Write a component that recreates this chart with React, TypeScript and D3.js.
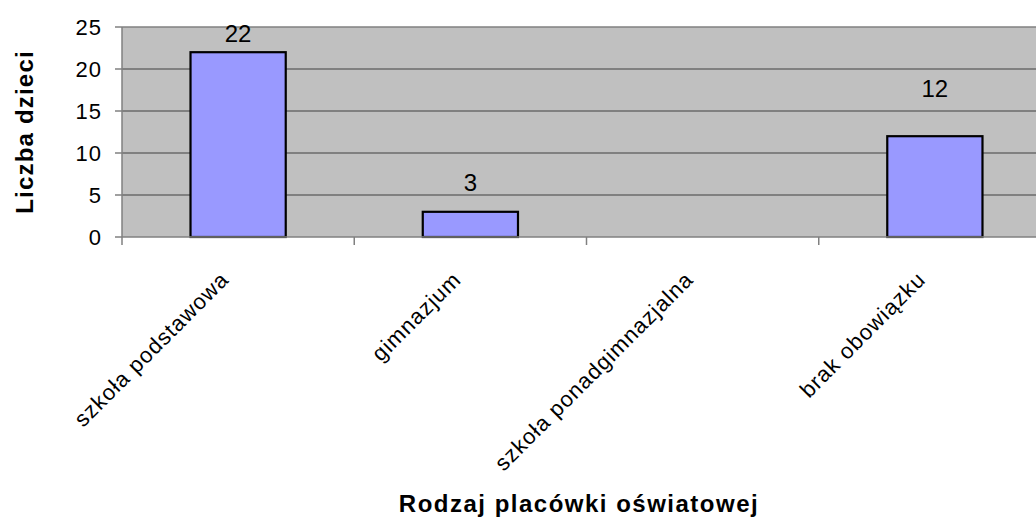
import React, { useEffect, useRef } from "react";
import * as d3 from "d3";

const categories = [
  "szkoła podstawowa",
  "gimnazjum",
  "szkoła ponadgimnazjalna",
  "brak obowiązku",
];
const counts = [22, 3, 0, 12];
const yTicks = [0, 5, 10, 15, 20, 25];

const yTitle = "Liczba dzieci";
const xTitle = "Rodzaj placówki oświatowej";

const FONT = "'Liberation Sans', Arial, sans-serif";

export default function App() {
  const ref = useRef<SVGSVGElement | null>(null);

  useEffect(() => {
    const width = 1036;
    const height = 518;
    const margin = { top: 27, right: -15, bottom: 281, left: 122 };

    const svg = d3.select(ref.current);
    svg.selectAll("*").remove();

    const x0 = margin.left;
    const x1 = width - margin.right;
    const yTop = margin.top;
    const yBot = height - margin.bottom;

    // category slots (for ticks) and bars inside them
    const slot = d3.scaleBand().domain(categories).range([x0, x1]);
    const x = d3
      .scaleBand()
      .domain(categories)
      .range([x0, x1])
      .paddingInner(0.59)
      .paddingOuter(0.295);

    const y = d3.scaleLinear().domain([0, 25]).range([yBot, yTop]);

    // plot background
    svg
      .append("rect")
      .attr("x", x0)
      .attr("y", yTop)
      .attr("width", x1 - x0)
      .attr("height", yBot - yTop)
      .attr("fill", "#c0c0c0");

    // grid lines
    svg
      .selectAll(".grid")
      .data(yTicks.filter(t => t > 0 && t < 25))
      .enter()
      .append("line")
      .attr("x1", x0)
      .attr("x2", x1)
      .attr("y1", d => y(d))
      .attr("y2", d => y(d))
      .attr("stroke", "#404040")
      .attr("stroke-width", 1);

    // top border
    svg
      .append("line")
      .attr("x1", x0)
      .attr("x2", x1)
      .attr("y1", yTop)
      .attr("y2", yTop)
      .attr("stroke", "#808080")
      .attr("stroke-width", 1.5);

    // bars
    svg
      .selectAll(".bar")
      .data(counts.map((v, i) => ({ v, c: categories[i] })).filter(d => d.v > 0))
      .enter()
      .append("rect")
      .attr("x", d => x(d.c)!)
      .attr("y", d => y(d.v))
      .attr("width", x.bandwidth())
      .attr("height", d => y(0) - y(d.v))
      .attr("fill", "#9999ff")
      .attr("stroke", "#000")
      .attr("stroke-width", 2.2);

    // y axis
    svg
      .append("line")
      .attr("x1", x0)
      .attr("x2", x0)
      .attr("y1", yTop)
      .attr("y2", yBot)
      .attr("stroke", "#808080")
      .attr("stroke-width", 1.5);

    svg
      .selectAll(".ytick")
      .data(yTicks)
      .enter()
      .append("line")
      .attr("x1", x0 - 7)
      .attr("x2", x0)
      .attr("y1", d => y(d))
      .attr("y2", d => y(d))
      .attr("stroke", "#808080")
      .attr("stroke-width", 1.5);

    svg
      .selectAll(".ylab")
      .data(yTicks)
      .enter()
      .append("text")
      .attr("x", x0 - 20)
      .attr("y", d => y(d))
      .attr("dy", "0.36em")
      .attr("text-anchor", "end")
      .attr("font-family", FONT)
      .attr("font-size", 22)
      .attr("letter-spacing", 1)
      .attr("fill", "#000")
      .text(d => d);

    // x axis
    svg
      .append("line")
      .attr("x1", x0)
      .attr("x2", x1)
      .attr("y1", yBot)
      .attr("y2", yBot)
      .attr("stroke", "#808080")
      .attr("stroke-width", 1.5);

    const boundaries = categories.map(c => slot(c)!).concat([x1]);
    svg
      .selectAll(".xtick")
      .data(boundaries)
      .enter()
      .append("line")
      .attr("x1", d => d)
      .attr("x2", d => d)
      .attr("y1", yBot)
      .attr("y2", yBot + 8)
      .attr("stroke", "#808080")
      .attr("stroke-width", 1.5);

    svg
      .selectAll(".xlab")
      .data(categories)
      .enter()
      .append("text")
      .attr(
        "transform",
        c => `translate(${slot(c)! + slot.bandwidth() / 2 - 8},${yBot + 44}) rotate(-45)`
      )
      .attr("text-anchor", "end")
      .attr("font-family", FONT)
      .attr("font-size", 22)
      .attr("letter-spacing", 1)
      .attr("fill", "#000")
      .text(c => c);

    // value labels (Excel left them at uneven heights)
    const labelLift = [10, 21, 0, 39];
    svg
      .selectAll(".vlab")
      .data(counts.map((v, i) => ({ v, i })).filter(d => d.v > 0))
      .enter()
      .append("text")
      .attr("x", d => x(categories[d.i])! + x.bandwidth() / 2)
      .attr("y", d => y(d.v) - labelLift[d.i])
      .attr("text-anchor", "middle")
      .attr("font-family", FONT)
      .attr("font-size", 24)
      .attr("fill", "#000")
      .text(d => d.v);

    // axis titles
    svg
      .append("text")
      .attr("transform", `translate(33,${(yTop + yBot) / 2}) rotate(-90)`)
      .attr("text-anchor", "middle")
      .attr("font-family", FONT)
      .attr("font-size", 24)
      .attr("font-weight", "bold")
      .attr("letter-spacing", 1.2)
      .attr("fill", "#000")
      .text(yTitle);

    svg
      .append("text")
      .attr("x", 579)
      .attr("y", 512)
      .attr("text-anchor", "middle")
      .attr("font-family", FONT)
      .attr("font-size", 24)
      .attr("font-weight", "bold")
      .attr("letter-spacing", 1.5)
      .attr("fill", "#000")
      .text(xTitle);
  }, []);

  return (
    <svg
      ref={ref}
      width={1036}
      height={518}
      style={{ position: "absolute", left: 0, top: 0, background: "#fff", overflow: "hidden" }}
    />
  );
}
